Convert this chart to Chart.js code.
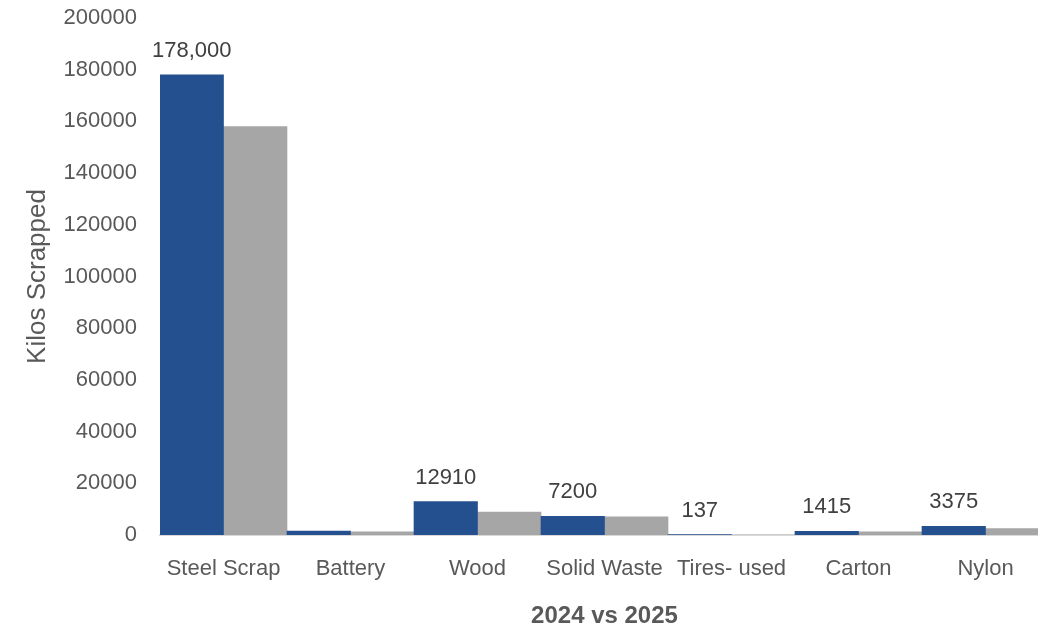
<!DOCTYPE html>
<html>
<head>
<meta charset="utf-8">
<script src="https://cdn.jsdelivr.net/npm/chart.js@4/dist/chart.umd.min.js"></script>
<style>
  html, body { margin: 0; padding: 0; background: #ffffff; overflow: hidden; width: 1038px; height: 627px; }
  #wrap { position: absolute; left: 0; top: 0; width: 1049px; height: 627px; }
</style>
</head>
<body>
<div id="wrap"><canvas id="c" width="1049" height="627"></canvas></div>
<script>
const categories = ['Steel Scrap', 'Battery', 'Wood', 'Solid Waste', 'Tires- used', 'Carton', 'Nylon'];
const values2024 = [178000, 1500, 12910, 7200, 137, 1415, 3375];
const values2025 = [158000, 1200, 8900, 7000, 0, 1200, 2450];
const dataLabels2024 = ['178,000', '', '12910', '7200', '137', '1415', '3375'];
const yTicks = [0, 20000, 40000, 60000, 80000, 100000, 120000, 140000, 160000, 180000, 200000];

const FONT = "'Liberation Sans', Arial, sans-serif";

const labelPlugin = {
  id: 'barLabels',
  afterDatasetsDraw(chart) {
    const ctx = chart.ctx;
    const meta = chart.getDatasetMeta(0);
    ctx.save();
    ctx.font = '22px ' + FONT;
    ctx.fillStyle = '#404040';
    ctx.textAlign = 'center';
    ctx.textBaseline = 'middle';
    meta.data.forEach((bar, i) => {
      const t = dataLabels2024[i];
      if (t) ctx.fillText(t, bar.x, bar.y - 24);
    });
    ctx.restore();
  }
};

new Chart(document.getElementById('c'), {
  type: 'bar',
  data: {
    labels: categories,
    datasets: [
      { label: '2024', data: values2024, backgroundColor: '#24508F', borderWidth: 0, categoryPercentage: 1.0, barPercentage: 1.0 },
      { label: '2025', data: values2025, backgroundColor: '#A6A6A6', borderWidth: 0, categoryPercentage: 1.0, barPercentage: 1.0 }
    ]
  },
  options: {
    responsive: false,
    animation: false,
    devicePixelRatio: 1,
    layout: { padding: { top: 18, right: 0, bottom: 0, left: 0 } },
    plugins: { legend: { display: false }, tooltip: { enabled: false } },
    scales: {
      x: {
        grid: { display: false, drawTicks: false },
        border: { display: true, color: '#D9D9D9', width: 2 },
        ticks: { color: '#595959', font: { family: FONT, size: 22 }, padding: 21, autoSkip: false, maxRotation: 0 },
        title: { display: true, text: '2024 vs 2025', color: '#595959', font: { family: FONT, size: 24, weight: 'bold' }, padding: { top: 0, bottom: -4 } },
        afterFit(scale) { scale.height = 92; }
      },
      y: {
        min: 0,
        max: 200000,
        grid: { display: false, drawTicks: false },
        border: { display: false },
        afterBuildTicks(scale) { scale.ticks = yTicks.map(v => ({ value: v })); },
        ticks: { color: '#595959', font: { family: FONT, size: 22 }, padding: 23, callback: v => String(v) },
        title: { display: true, text: 'Kilos Scrapped', color: '#595959', font: { family: FONT, size: 26 }, padding: { top: 22, bottom: 0 } },
        afterFit(scale) { scale.width = 160; scale.paddingTop = 0; scale.paddingBottom = 0; }
      }
    }
  },
  plugins: [labelPlugin]
});
</script>
</body>
</html>
